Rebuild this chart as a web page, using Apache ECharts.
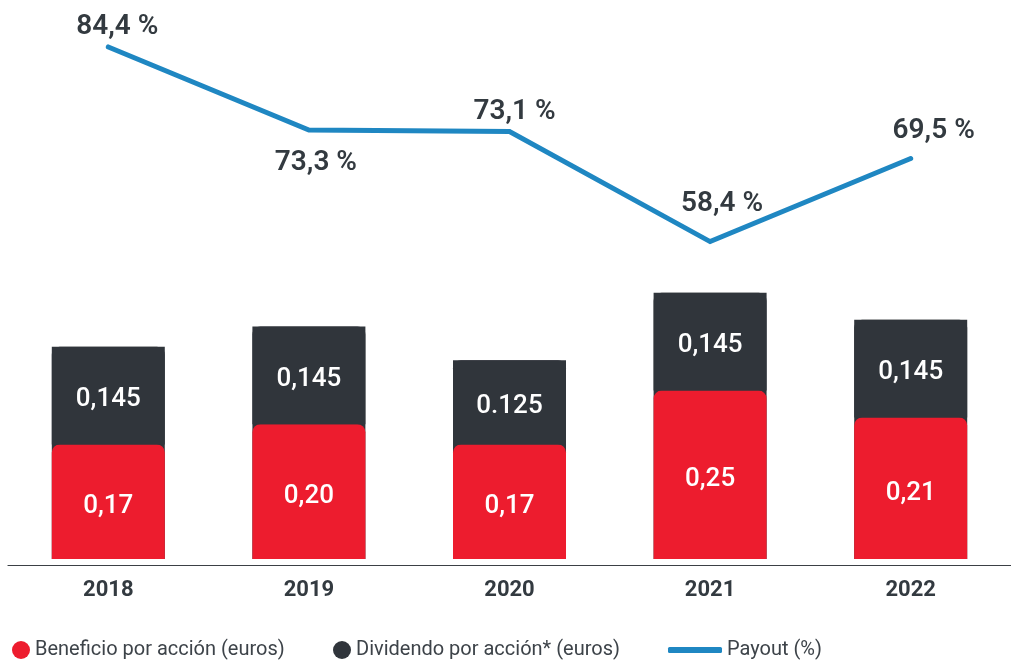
<!DOCTYPE html>
<html>
<head>
<meta charset="utf-8">
<script src="https://cdn.jsdelivr.net/npm/echarts@6/dist/echarts.min.js"></script>
<style>
  html, body { margin: 0; padding: 0; background: #fff; }
  #chart { width: 1011px; height: 661px; }
</style>
</head>
<body>
<div id="chart"></div>
<script>
const years = ["2018", "2019", "2020", "2021", "2022"];
const beneficio = [0.17, 0.20, 0.17, 0.25, 0.21];
const dividendo = [0.145, 0.145, 0.125, 0.145, 0.145];
const dividendoLabels = ["0,145", "0,145", "0.125", "0,145", "0,145"];
const payout = [84.4, 73.3, 73.1, 58.4, 69.5];
// where each payout label sits relative to its point
const payoutLabelOffsets = [[9, -20], [7, 33], [5, -20], [12, -38], [23, -27]];

const RED = "#ed1c2e";
const DARK = "#30353b";
const BLUE = "#1f87c2";
const TEXT = "#333a40";

const NAME_BEN = "Beneficio por acción (euros)";
const NAME_DIV = "Dividendo por acción* (euros)";
const NAME_PAY = "Payout (%)";

const totals = beneficio.map((v, i) => +(v + dividendo[i]).toFixed(3));
const fmtComma = (v) => v.toFixed(2).replace(".", ",");

const chart = echarts.init(document.getElementById("chart"));

const legendText = {
  color: "#3d4349",
  fontSize: 20,
  fontFamily: "Roboto, sans-serif"
};

chart.setOption({
  backgroundColor: "#fff",
  animation: false,
  textStyle: { fontFamily: "Roboto, sans-serif" },
  legend: [
    {
      data: [NAME_BEN], left: 7, top: 635,
      icon: "circle", itemWidth: 18, itemHeight: 18, itemGap: 0, itemTextGap: 9,
      textStyle: legendText
    },
    {
      data: [NAME_DIV], left: 328, top: 635,
      icon: "circle", itemWidth: 18, itemHeight: 18, itemGap: 0, itemTextGap: 6,
      textStyle: legendText
    },
    {
      data: [NAME_PAY], left: 663, top: 635,
      icon: "roundRect", itemWidth: 54, itemHeight: 6, itemGap: 0, itemTextGap: 10,
      itemStyle: { color: BLUE },
      textStyle: legendText
    }
  ],
  grid: { left: 8, right: 0, top: 20, bottom: 102 },
  xAxis: {
    type: "category",
    data: years,
    offset: 6,
    axisLine: { onZero: false, lineStyle: { color: "#3b4045", width: 1.2 } },
    axisTick: { show: false },
    axisLabel: { color: TEXT, fontSize: 22, fontWeight: 700, margin: 14 }
  },
  yAxis: [
    { type: "value", min: 0, max: 0.8, show: false, splitLine: { show: false } },
    { type: "value", min: 16, max: 88, show: false, splitLine: { show: false } }
  ],
  series: [
    {
      name: "total",
      type: "bar",
      silent: true,
      barWidth: 113,
      barGap: "-100%",
      itemStyle: { color: DARK, borderRadius: [8, 8, 0, 0] },
      data: totals,
      z: 1
    },
    {
      name: NAME_BEN,
      type: "bar",
      stack: "eps",
      barWidth: 113,
      barGap: "-100%",
      itemStyle: { color: RED, borderRadius: [8, 8, 0, 0] },
      label: {
        show: true,
        position: "inside",
        color: "#fff",
        fontSize: 26,
        fontWeight: 500,
        offset: [0, 5],
        formatter: (p) => fmtComma(p.value)
      },
      data: beneficio,
      z: 2
    },
    {
      name: NAME_DIV,
      type: "bar",
      stack: "eps",
      barWidth: 113,
      barGap: "-100%",
      itemStyle: { color: DARK },
      label: {
        show: true,
        position: "inside",
        color: "#fff",
        fontSize: 26,
        fontWeight: 500,
        offset: [0, 4],
        formatter: (p) => dividendoLabels[p.dataIndex]
      },
      data: dividendo,
      z: 2
    },
    {
      name: NAME_PAY,
      type: "line",
      yAxisIndex: 1,
      symbol: "circle",
      symbolSize: 4,
      showSymbol: true,
      lineStyle: { color: BLUE, width: 5, cap: "round", join: "miter" },
      itemStyle: { color: BLUE },
      label: {
        show: true,
        position: "inside",
        color: TEXT,
        fontSize: 28,
        fontWeight: 600
      },
      data: payout.map((v, i) => ({
        value: v,
        label: {
          offset: payoutLabelOffsets[i],
          formatter: v.toFixed(1).replace(".", ",") + " %"
        }
      })),
      z: 5
    }
  ]
});
</script>
</body>
</html>
